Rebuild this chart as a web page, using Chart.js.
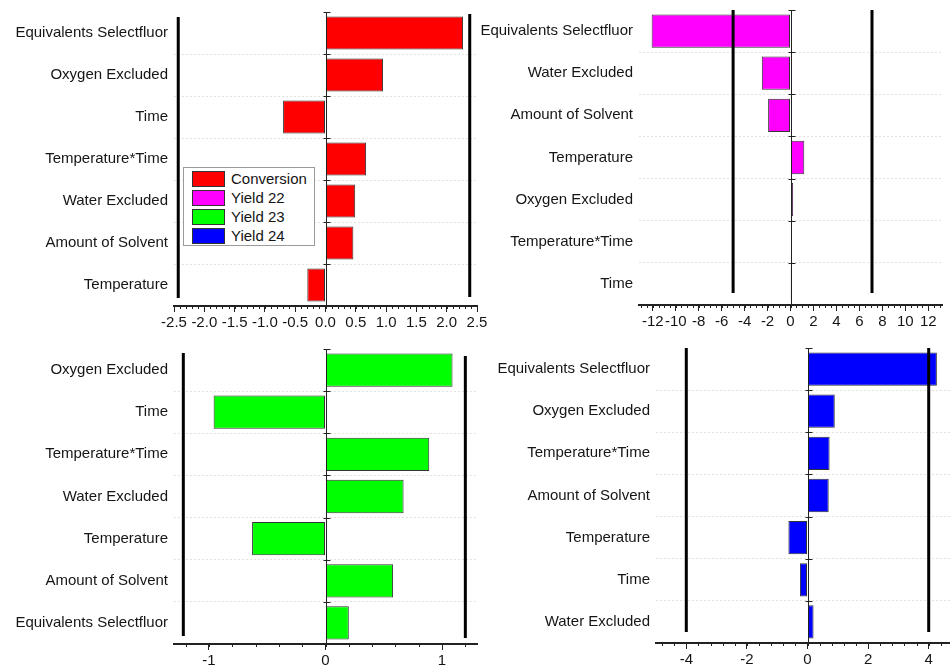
<!DOCTYPE html>
<html>
<head>
<meta charset="utf-8">
<script src="https://cdn.jsdelivr.net/npm/chart.js@4/dist/chart.umd.min.js"></script>
<style>
html, body { margin: 0; padding: 0; background: #fff; width: 950px; height: 666px; overflow: hidden; }
canvas { position: absolute; }
#legend {
    position: absolute; left: 183px; top: 167px; width: 130px; height: 76px; padding-top: 1px;
    border: 1px solid #9a9a9a; background: #fff; box-sizing: content-box;
    font: 15px "Liberation Sans", Arial, sans-serif; color: #151515;
}
#legend .row { display: flex; align-items: center; height: 19px; }
#legend .sw { width: 31px; height: 14px; margin-left: 8px; margin-right: 6px; border: 1px solid #333; }
</style>
</head>
<body>
<canvas id="c1" width="500" height="335" style="left:0;top:0"></canvas>
<canvas id="c2" width="475" height="335" style="left:475px;top:0"></canvas>
<canvas id="c3" width="500" height="331" style="left:0;top:335px"></canvas>
<canvas id="c4" width="490" height="331" style="left:475px;top:335px"></canvas>
<div id="legend"></div>
<script>
const seriesNames = ['Conversion', 'Yield 22', 'Yield 23', 'Yield 24'];
const seriesColors = ['#ff0000', '#ff00ff', '#00ff00', '#0000ff'];

const convLabels = ['Equivalents Selectfluor', 'Oxygen Excluded', 'Time', 'Temperature*Time', 'Water Excluded', 'Amount of Solvent', 'Temperature'];
const convValues = [2.27, 0.95, -0.70, 0.67, 0.49, 0.46, -0.30];
const convTicks = [-2.5, -2.0, -1.5, -1.0, -0.5, 0.0, 0.5, 1.0, 1.5, 2.0, 2.5];
const convLimits = [-2.43, 2.38];

const y22Labels = ['Equivalents Selectfluor', 'Water Excluded', 'Amount of Solvent', 'Temperature', 'Oxygen Excluded', 'Temperature*Time', 'Time'];
const y22Values = [-12.1, -2.5, -1.95, 1.2, 0.23, 0.04, 0.02];
const y22Ticks = [-12, -10, -8, -6, -4, -2, 0, 2, 4, 6, 8, 10, 12];
const y22Limits = [-5.0, 7.1];

const y23Labels = ['Oxygen Excluded', 'Time', 'Temperature*Time', 'Water Excluded', 'Temperature', 'Amount of Solvent', 'Equivalents Selectfluor'];
const y23Values = [1.09, -0.96, 0.89, 0.67, -0.63, 0.58, 0.20];
const y23Ticks = [-1, 0, 1];
const y23Limits = [-1.22, 1.2];

const y24Labels = ['Equivalents Selectfluor', 'Oxygen Excluded', 'Temperature*Time', 'Amount of Solvent', 'Temperature', 'Time', 'Water Excluded'];
const y24Values = [4.27, 0.90, 0.73, 0.70, -0.63, -0.25, 0.20];
const y24Ticks = [-4, -2, 0, 2, 4];
const y24Limits = [-4, 4];

const font = { family: '"Liberation Sans", Arial, sans-serif', size: 15 };
const ink = '#151515';

// zero line, minor ticks and the thick limit lines
const decor = {
    id: 'decor',
    afterDatasetsDraw(chart, args, o) {
        const { ctx, chartArea: a, scales: { x, y } } = chart;
        ctx.save();
        ctx.lineWidth = 1;
        ctx.strokeStyle = '#222';
        ctx.beginPath();
        for (let k = 0; ; k++) {
            const v = o.minorFrom + k * o.minorStep;
            if (v > x.max + 1e-9) break;
            const px = Math.round(x.getPixelForValue(v)) + 0.5;
            ctx.moveTo(px, a.bottom);
            ctx.lineTo(px, a.bottom + 3);
        }
        ctx.stroke();

        const x0 = Math.round(x.getPixelForValue(0)) + 0.5;
        ctx.beginPath();
        ctx.moveTo(x0, a.top);
        ctx.lineTo(x0, a.bottom);
        for (let i = 0; i <= y.ticks.length; i++) {
            const py = Math.round(y.getPixelForValue(i - 0.5)) + 0.5;
            ctx.moveTo(x0 - 3, py);
            ctx.lineTo(x0 + 4, py);
        }
        ctx.stroke();

        ctx.lineWidth = 3;
        ctx.strokeStyle = '#000';
        o.limits.forEach((v, i) => {
            const px = x.getPixelForValue(v);
            ctx.beginPath();
            ctx.moveTo(px, a.top + o.inset[i][0]);
            ctx.lineTo(px, a.bottom - o.inset[i][1]);
            ctx.stroke();
        });
        ctx.restore();
    }
};

const panel = (id, labels, values, color, cfg) => {
    new Chart(document.getElementById(id), {
        type: 'bar',
        data: {
            labels: labels,
            datasets: [{
                data: values,
                backgroundColor: color,
                borderColor: '#333',
                borderWidth: 1,
                borderSkipped: false,
                barPercentage: 0.79,
                categoryPercentage: 1
            }]
        },
        options: {
            indexAxis: 'y',
            responsive: false,
            animation: false,
            layout: { padding: cfg.pad },
            plugins: {
                legend: { display: false },
                tooltip: { enabled: false },
                decor: { limits: cfg.limits, inset: cfg.inset, minorFrom: cfg.minorFrom, minorStep: cfg.minorStep }
            },
            scales: {
                x: {
                    type: 'linear',
                    min: cfg.min,
                    max: cfg.max,
                    afterBuildTicks: s => { s.ticks = cfg.ticks.map(v => ({ value: v })); },
                    afterFit: s => { s.height = cfg.axisH; },
                    grid: { drawOnChartArea: false, tickLength: 6, tickColor: '#222', tickWidth: 1 },
                    border: { color: '#222', width: 2 },
                    ticks: { font: font, color: ink, padding: 2, maxRotation: 0, autoSkip: false, callback: cfg.fmt }
                },
                y: {
                    afterFit: s => { s.width = cfg.labelW; },
                    grid: {
                        offset: true,
                        tickLength: 6,
                        tickColor: 'rgba(0,0,0,0)',
                        color: c => c.index === 0 ? 'rgba(0,0,0,0)' : '#e2e2e2'
                    },
                    border: { display: false, dash: [2, 2] },
                    ticks: { font: font, color: ink, padding: 0, autoSkip: false }
                }
            }
        },
        plugins: [decor]
    });
};

panel('c1', convLabels, convValues, seriesColors[0], {
    min: -2.5, max: 2.5, ticks: convTicks, fmt: v => v.toFixed(1),
    minorFrom: -2.5, minorStep: 0.1, limits: convLimits, inset: [[5, 8], [2, 9]],
    pad: { top: 12, right: 23, left: 0, bottom: 0 }, labelW: 174, axisH: 29
});
panel('c2', y22Labels, y22Values, seriesColors[1], {
    min: -13.2, max: 13.2, ticks: y22Ticks, fmt: v => String(v),
    minorFrom: -13, minorStep: 0.5, limits: y22Limits, inset: [[0, 12], [0, 12]],
    pad: { top: 10, right: 8, left: 0, bottom: 0 }, labelW: 164, axisH: 30
});
panel('c3', y23Labels, y23Values, seriesColors[2], {
    min: -1.3, max: 1.3, ticks: y23Ticks, fmt: v => String(v),
    minorFrom: -1.2, minorStep: 0.2, limits: y23Limits, inset: [[4, 8], [7, 6]],
    pad: { top: 14, right: 23, left: 0, bottom: 0 }, labelW: 174, axisH: 22
});
panel('c4', y24Labels, y24Values, seriesColors[3], {
    min: -5, max: 5, ticks: y24Ticks, fmt: v => String(v),
    minorFrom: -4.8, minorStep: 0.4, limits: y24Limits, inset: [[0, 11], [0, 11]],
    pad: { top: 13, right: 6, left: 0, bottom: 0 }, labelW: 181, axisH: 23
});

const legend = document.getElementById('legend');
seriesNames.forEach((name, i) => {
    const row = document.createElement('div');
    row.className = 'row';
    const sw = document.createElement('span');
    sw.className = 'sw';
    sw.style.background = seriesColors[i];
    const txt = document.createElement('span');
    txt.textContent = name;
    row.appendChild(sw);
    row.appendChild(txt);
    legend.appendChild(row);
});
</script>
</body>
</html>
